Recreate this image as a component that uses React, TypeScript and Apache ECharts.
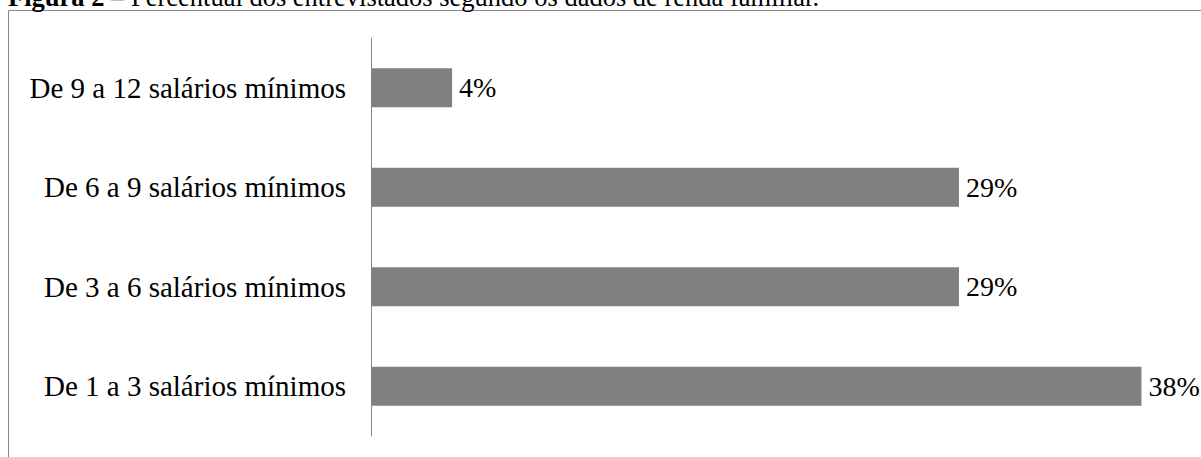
import React, { useEffect, useRef } from "react";
import * as echarts from "echarts";

const categories = [
  "De 1 a 3 salários mínimos",
  "De 3 a 6 salários mínimos",
  "De 6 a 9 salários mínimos",
  "De 9 a 12 salários mínimos",
];
const values = [38, 29, 29, 4];
const titleBold = "Figura 2";
const titleRest = " – Percentual dos entrevistados segundo os dados de renda familiar.";

const FONT = "'Liberation Serif', 'Times New Roman', serif";

export default function App() {
  const ref = useRef<HTMLDivElement>(null);
  useEffect(() => {
    if (!ref.current) return;
    const chart = echarts.init(ref.current, undefined, { renderer: "svg" });
    chart.setOption({
      animation: false,
      backgroundColor: "#ffffff",
      grid: { left: 371, right: 19, top: 38, bottom: 21, containLabel: false },
      xAxis: {
        type: "value",
        min: 0,
        max: 40,
        show: false,
      },
      yAxis: {
        type: "category",
        data: categories,
        axisLine: { show: true, lineStyle: { color: "#888888", width: 1 } },
        axisTick: { show: false },
        splitLine: { show: false },
        axisLabel: {
          color: "#000000",
          fontFamily: FONT,
          fontSize: 29,
          margin: 25,
        },
      },
      series: [
        {
          type: "bar",
          data: values,
          barWidth: 39,
          itemStyle: { color: "#808080" },
          label: {
            show: true,
            position: "right",
            distance: 7,
            formatter: "{c}%",
            color: "#000000",
            fontFamily: FONT,
            fontSize: 28,
          },
        },
      ],
      graphic: [
        {
          type: "rect",
          shape: { x: 8.5, y: 10.5, width: 1300, height: 600 },
          style: { fill: "none", stroke: "#888888", lineWidth: 1 },
          silent: true,
        },
        {
          type: "text",
          x: 8,
          y: 10,
          style: {
            text: "{b|" + titleBold + "}" + titleRest,
            fontFamily: FONT,
            fontSize: 26.5,
            fill: "#000000",
            verticalAlign: "bottom",
            rich: {
              b: { fontWeight: "bold", fontFamily: FONT, fontSize: 26.5, fill: "#000000" },
            },
          },
          silent: true,
        },
      ],
    });
    return () => chart.dispose();
  }, []);
  return (
    <div
      ref={ref}
      style={{ position: "absolute", left: 0, top: 0, width: 1201, height: 457 }}
    />
  );
}
